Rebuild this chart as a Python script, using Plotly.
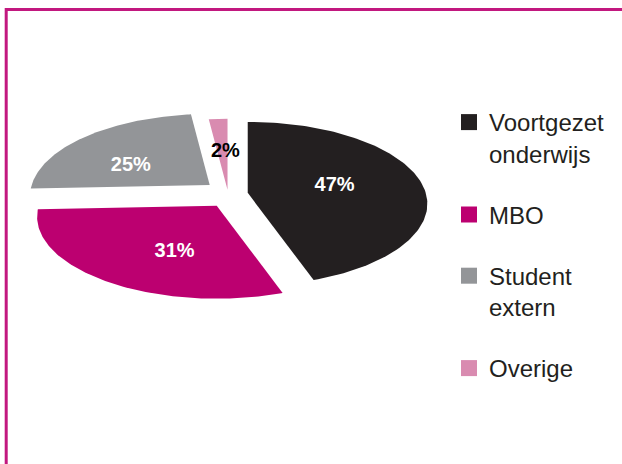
import numpy as np
import plotly.graph_objects as go

# ---- data ----
categories = ["Voortgezet onderwijs", "MBO", "Student extern", "Overige"]
legend_labels = ["Voortgezet<br>onderwijs", "MBO", "Student<br>extern", "Overige"]
shares = [47, 31, 25, 2]
slice_labels = ["47%", "31%", "25%", "2%"]

# ---- style ----
colors = ["#231f20", "#bc0070", "#939598", "#d98bb0"]
label_colors = ["#ffffff", "#ffffff", "#ffffff", "#000000"]
pulls = [20, 20, 24, 8]              # explode distance (px)
label_r = [0.5, 0.58, 0.52, 0.5]     # label radius (fraction)
label_rot = [0, -12, -12, 2]         # label angle tweak (deg)
CX, CY = 228, 195                    # pie centre (px)
RX, RY, K = 178, 80.5, 0.134         # tilted-disc radii and perspective factor
PULL_Y = 0.65
FONT = "Liberation Sans"
FRAME = "#c2187f"
W, H = 622, 464


def project(u, v):
    d = 1 + K * v
    return RX * u / d, -RY * v / d


fig = go.Figure()
total = float(sum(shares))
start = 0.0
lab_x, lab_y = [], []
for val, col, pull, lr, rot in zip(shares, colors, pulls, label_r, label_rot):
    a0 = np.radians(start / total * 360)
    a1 = np.radians((start + val) / total * 360)
    mid = (a0 + a1) / 2
    ax = CX + pull * np.sin(mid)
    ay = CY - pull * np.cos(mid) * PULL_Y
    t = np.linspace(a0, a1, 120)
    px, py = project(np.sin(t), np.cos(t))
    xs = np.concatenate([[ax], ax + px, [ax]])
    ys = np.concatenate([[ay], ay + py, [ay]])
    fig.add_trace(go.Scatter(x=xs, y=ys, mode="lines", fill="toself",
                             fillcolor=col, line=dict(width=0, color=col),
                             hoverinfo="skip", showlegend=False))
    la = mid + np.radians(rot)
    lx, ly = project(lr * np.sin(la), lr * np.cos(la))
    lab_x.append(ax + lx)
    lab_y.append(ay + ly)
    start += val

fig.add_trace(go.Scatter(x=lab_x, y=lab_y, mode="text", text=slice_labels,
                         textposition="middle center",
                         textfont=dict(family=FONT, size=20, color=label_colors,
                                       weight="bold"),
                         hoverinfo="skip", showlegend=False))

for i, (name, col) in enumerate(zip(legend_labels, colors)):
    fig.add_trace(go.Scatter(x=[None], y=[None], mode="markers", name=name,
                             legendgroup=f"g{i}",
                             marker=dict(symbol="square", size=16, color=col)))

# frame lines
fig.add_shape(type="line", x0=5, x1=W, y0=9.5, y1=9.5,
              line=dict(color=FRAME, width=3))
fig.add_shape(type="line", x0=6.2, x1=6.2, y0=8, y1=H,
              line=dict(color=FRAME, width=3))

fig.update_layout(
    width=W, height=H,
    margin=dict(l=0, r=0, t=0, b=0),
    paper_bgcolor="white", plot_bgcolor="white",
    xaxis=dict(range=[0, W], visible=False, fixedrange=True),
    yaxis=dict(range=[H, 0], visible=False, fixedrange=True),
    showlegend=True,
    legend=dict(x=449 / W, y=1 - 100 / H, xanchor="left", yanchor="top",
                font=dict(family=FONT, size=24, color="#231f20"),
                valign="top", tracegroupgap=27, traceorder="grouped",
                bgcolor="rgba(0,0,0,0)"),
)

fig.write_html("out.html", config={"displayModeBar": False},
               post_script="document.body.style.margin='0';"
                           "document.body.style.overflow='hidden';")
